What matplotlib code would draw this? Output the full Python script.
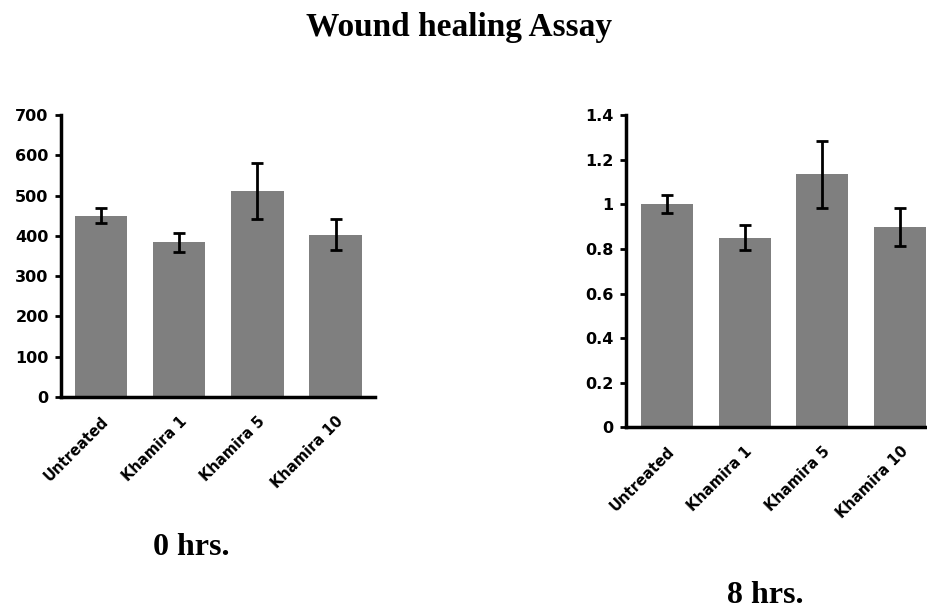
"""Wound healing assay: bar charts at 0 h and 8 h with error bars."""
import matplotlib
matplotlib.use("Agg")
import matplotlib.pyplot as plt

groups = ["Untreated", "Khamira 1", "Khamira 5", "Khamira 10"]

area_0h = [450, 384, 512, 403]
err_0h = [18, 24, 69, 38]

ratio_8h = [1.0, 0.85, 1.135, 0.897]
err_8h = [0.04, 0.055, 0.15, 0.085]

BAR_COLOR = "#7f7f7f"
YTICK_FONT = dict(family="DejaVu Sans", weight="bold", size=11.5)
XTICK_FONT = dict(family="DejaVu Sans", weight="bold", size=10.5)


def draw_panel(ax, vals, errs, ylim, yticks, yticklabels, xlim):
    x = range(len(groups))
    ax.bar(x, vals, width=0.67, color=BAR_COLOR, zorder=2)
    ax.errorbar(x, vals, yerr=errs, fmt="none", ecolor="black",
                elinewidth=2, capsize=4, capthick=2, zorder=3)
    ax.set_xlim(*xlim)
    ax.set_ylim(*ylim)
    ax.set_yticks(yticks)
    ax.set_yticklabels(yticklabels, **YTICK_FONT)
    ax.set_xticks(list(x))
    ax.set_xticklabels(groups, rotation=45, ha="right",
                       rotation_mode="anchor", **XTICK_FONT)
    for side in ("top", "right"):
        ax.spines[side].set_visible(False)
    for side in ("left", "bottom"):
        ax.spines[side].set_linewidth(2.5)
    ax.tick_params(axis="y", direction="out", length=4, width=2, pad=5)
    ax.tick_params(axis="x", length=0, pad=12)


fig = plt.figure(figsize=(9.27, 6.14), dpi=100)

ax0 = fig.add_axes([0.066, 0.3534, 0.339, 0.4593])
draw_panel(ax0, area_0h, err_0h, (0, 700), range(0, 701, 100),
           [str(v) for v in range(0, 701, 100)], (-0.51, 3.51))

ax8 = fig.add_axes([0.675, 0.304, 0.338, 0.5086])
yt = [0, 0.2, 0.4, 0.6, 0.8, 1.0, 1.2, 1.4]
draw_panel(ax8, ratio_8h, err_8h, (0, 1.4), yt,
           ["0", "0.2", "0.4", "0.6", "0.8", "1", "1.2", "1.4"], (-0.53, 3.5))

fig.text(0.495, 0.955, "Wound healing Assay", ha="center", va="center",
         family="Liberation Serif", weight="bold", size=24)
fig.text(0.206, 0.108, "0 hrs.", ha="center", va="center",
         family="Liberation Serif", weight="bold", size=23)
fig.text(0.826, 0.030, "8 hrs.", ha="center", va="center",
         family="Liberation Serif", weight="bold", size=23)

fig.savefig("out.png", dpi=100)
